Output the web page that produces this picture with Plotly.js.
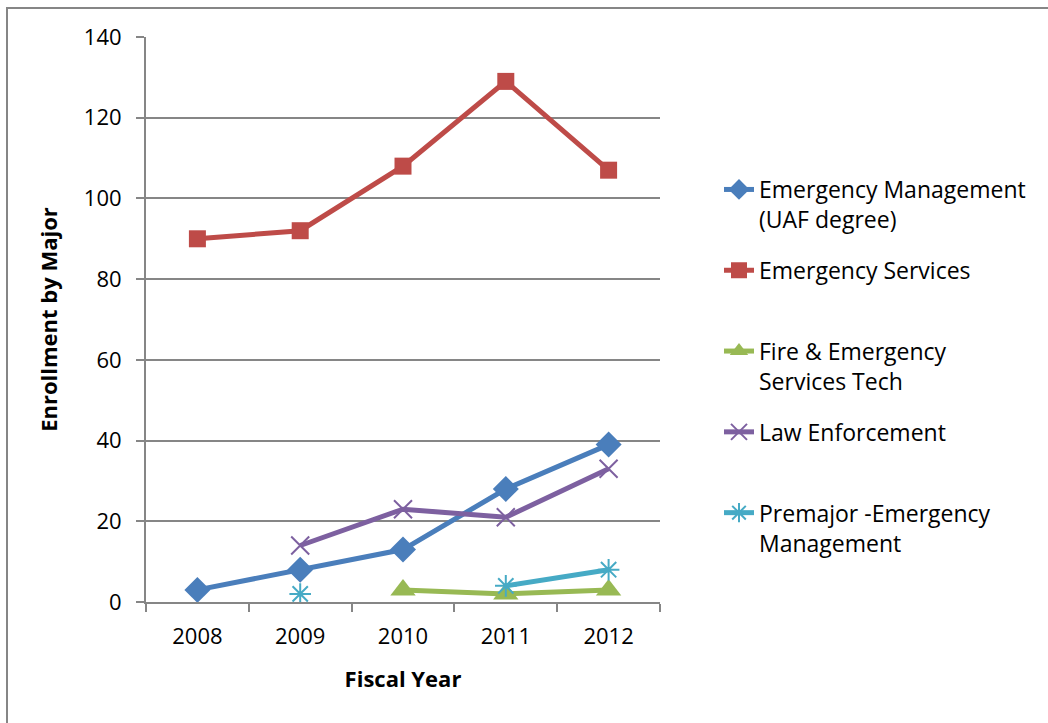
<!DOCTYPE html>
<html>
<head>
<meta charset="utf-8">
<script src="https://cdn.plot.ly/plotly-3.0.1.min.js"></script>
<style>html,body{margin:0;padding:0;background:#fff;}#chart{width:1048px;height:723px;}</style>
</head>
<body>
<div id="chart"></div>
<script>
const years = ['2008', '2009', '2010', '2011', '2012'];
const emergencyManagement = [3, 8, 13, 28, 39];
const emergencyServices = [90, 92, 108, 129, 107];
const fireEmergencyTech = [null, null, 3, 2, 3];
const lawEnforcement = [null, 14, 23, 21, 33];
const premajorEM = [null, 2, null, 4, 8];
const yTicks = [0, 20, 40, 60, 80, 100, 120, 140];

const seriesNames = [
  'Emergency Management<br>(UAF degree)',
  'Emergency Services<br> ',
  'Fire &amp; Emergency<br>Services Tech',
  'Law Enforcement<br> ',
  'Premajor -Emergency<br>Management'
];
const colors = ['#4A7EBB', '#BE4B48', '#98B954', '#7D60A0', '#46AAC5'];
const symbols = ['diamond', 'square', 'triangle-up', 'x-thin-open', 'asterisk-open'];
const sizes = [20, 17, 22, 18, 18];
const data = [emergencyManagement, emergencyServices, fireEmergencyTech, lawEnforcement, premajorEM];

const traces = data.map((vals, i) => ({
  type: 'scatter',
  mode: 'lines+markers',
  x: years,
  y: vals,
  name: seriesNames[i],
  legendgroup: 'g' + i,
  connectgaps: false,
  line: {color: colors[i], width: 5},
  marker: {
    symbol: symbols[i],
    size: sizes[i],
    color: colors[i],
    line: {color: colors[i], width: (i >= 3 ? 2 : 0)}
  }
}));

const ml = 146, mr = 388, mt = 37, mb = 121, W = 1048, H = 723;
const pw = W - ml - mr, ph = H - mt - mb;

const layout = {
  width: W, height: H,
  margin: {l: ml, r: mr, t: mt, b: mb, pad: 0},
  paper_bgcolor: '#ffffff',
  plot_bgcolor: '#ffffff',
  font: {family: 'Open Sans, sans-serif', color: '#000', size: 22},
  showlegend: true,
  legend: {
    x: (719 - ml) / pw, y: (602 - 168) / ph,
    xanchor: 'left', yanchor: 'top',
    valign: 'top',
    tracegroupgap: 18,
    font: {family: 'Open Sans, sans-serif', size: 23, color: '#000'},
    bgcolor: 'rgba(0,0,0,0)'
  },
  xaxis: {
    type: 'category',
    range: [-0.5, 4.5],
    tickson: 'boundaries',
    ticks: 'outside', ticklen: 8, tickwidth: 2, tickcolor: '#868686',
    showline: true, linecolor: '#868686', linewidth: 2,
    showgrid: false, zeroline: false,
    tickfont: {size: 22},
    ticklabelstandoff: 14,
    title: {text: '<b>Fiscal Year</b>', font: {size: 22}, standoff: 22},
    fixedrange: true
  },
  yaxis: {
    range: [0, 140],
    tickvals: yTicks,
    ticks: 'outside', ticklen: 8, tickwidth: 2, tickcolor: '#868686',
    showline: true, linecolor: '#868686', linewidth: 2,
    showgrid: true, gridcolor: '#868686', gridwidth: 2,
    zeroline: false,
    tickfont: {size: 22},
    ticklabelstandoff: 10,
    title: {text: '<b>Enrollment by Major</b>', font: {size: 22}, standoff: 20},
    fixedrange: true
  },
  shapes: [{
    type: 'rect', xref: 'paper', yref: 'paper',
    x0: (7 - ml) / pw, x1: (W + 20 - ml) / pw,
    y0: -(H + 20 - mt - ph) / ph, y1: (ph + mt - 8) / ph,
    line: {color: '#868686', width: 2}, fillcolor: 'rgba(0,0,0,0)', layer: 'below'
  }]
};

Plotly.newPlot('chart', traces, layout, {displayModeBar: false, staticPlot: true});
</script>
</body>
</html>
